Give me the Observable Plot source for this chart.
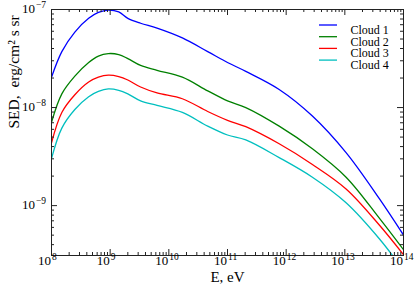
<!DOCTYPE html>
<html><head><meta charset="utf-8">
<script src="https://cdn.jsdelivr.net/npm/d3@7"></script>
<script src="https://cdn.jsdelivr.net/npm/@observablehq/plot@0.6"></script>
<style>body{margin:0;background:#fff} svg{display:block}</style>
</head><body><div id="chart"></div>
<script>
const energies = [1e8, 1.5e8, 2.5e8, 4.3e8, 6.3e8, 9.3e8, 1.4e9, 2e9, 3.3e9, 6.3e9, 1.7e10, 4.6e10, 1e11, 2.05e11, 7.6e11, 2.8e12, 1.05e13, 3.9e13, 1e14];
const cloud1 = [2.04e-8, 3.72e-8, 5.89e-8, 8.13e-8, 9.33e-8, 9.85e-8, 9.44e-8, 8.13e-8, 7.24e-8, 6.46e-8, 5.13e-8, 3.72e-8, 2.88e-8, 2.34e-8, 1.53e-8, 8.20e-9, 3.47e-9, 1.17e-9, 5.01e-10];
const cloud2 = [7.08e-9, 1.38e-8, 2.09e-8, 2.88e-8, 3.35e-8, 3.55e-8, 3.47e-8, 3.16e-8, 2.69e-8, 2.40e-8, 2.04e-8, 1.48e-8, 1.17e-8, 1.00e-8, 6.46e-9, 3.80e-9, 1.95e-9, 7.41e-10, 3.55e-10];
const cloud3 = [4.37e-9, 8.91e-9, 1.35e-8, 1.82e-8, 2.04e-8, 2.14e-8, 2.07e-8, 1.91e-8, 1.62e-8, 1.41e-8, 1.23e-8, 9.12e-9, 7.41e-9, 6.38e-9, 4.27e-9, 2.63e-9, 1.48e-9, 6.31e-10, 3.16e-10];
const cloud4 = [3.02e-9, 6.17e-9, 9.55e-9, 1.29e-8, 1.46e-8, 1.55e-8, 1.50e-8, 1.38e-8, 1.17e-8, 1.05e-8, 8.91e-9, 6.46e-9, 5.25e-9, 4.68e-9, 3.09e-9, 1.95e-9, 1.07e-9, 4.57e-10, 2.19e-10];
const seriesNames = ["Cloud 1", "Cloud 2", "Cloud 3", "Cloud 4"];
const seriesColors = ["#0000ff", "#008000", "#ff0000", "#00bfbf"];
const xMajorTicks = [1e8, 1e9, 1e10, 1e11, 1e12, 1e13, 1e14];
const xExponents = ["8", "9", "10", "11", "12", "13", "14"];
const yMajorTicks = [1e-9, 1e-8, 1e-7];
const yExponents = ["\u22129", "\u22128", "\u22127"];
const minorMultipliers = [2, 3, 4, 5, 6, 7, 8, 9];

const seriesValues = [cloud1, cloud2, cloud3, cloud4];
const rows = seriesNames.flatMap((name, i) => energies.map((E, j) => ({E, sed: seriesValues[i][j], series: name})));
const xMinorTicks = xMajorTicks.slice(0, -1).flatMap(d => minorMultipliers.map(m => d * m));
const yMinorTicks = [1e-10, 1e-9, 1e-8].flatMap(d => minorMultipliers.map(m => d * m)).filter(v => v > 3.5e-10 && v < 1e-7);

const W = 415, H = 289, mL = 51, mR = 12, mT = 9, mB = 34;
const fw = W - mL - mR, fh = H - mT - mB;
const ax = "#222";
const legendStep = 11.7;

const chart = Plot.plot({
  width: W, height: H,
  marginLeft: mL, marginRight: mR, marginTop: mT, marginBottom: mB,
  x: {type: "log", domain: [1e8, 1e14], axis: null},
  y: {type: "log", domain: [3.1e-10, 1e-7], axis: null},
  color: {domain: seriesNames, range: seriesColors},
  style: {fontFamily: "'Liberation Serif', serif", background: "white", color: "black"},
  marks: [
    Plot.line(rows, {x: "E", y: "sed", stroke: "series", strokeWidth: 1.3, curve: "catmull-rom", clip: true}),
    Plot.frame({stroke: ax}),
    Plot.tickX(xMajorTicks, {x: d => d, insetTop: fh - 6, stroke: ax}),
    Plot.tickX(xMajorTicks, {x: d => d, insetBottom: fh - 6, stroke: ax}),
    Plot.tickX(xMinorTicks, {x: d => d, insetTop: fh - 3, stroke: ax}),
    Plot.tickX(xMinorTicks, {x: d => d, insetBottom: fh - 3, stroke: ax}),
    Plot.tickY(yMajorTicks, {y: d => d, insetRight: fw - 6, stroke: ax}),
    Plot.tickY(yMajorTicks, {y: d => d, insetLeft: fw - 6, stroke: ax}),
    Plot.tickY(yMinorTicks, {y: d => d, insetRight: fw - 3, stroke: ax}),
    Plot.tickY(yMinorTicks, {y: d => d, insetLeft: fw - 3, stroke: ax}),
    Plot.text(xMajorTicks, {x: d => d, frameAnchor: "bottom", text: () => "10", textAnchor: "end", dx: -0.5, dy: 9.5, fontSize: 13}),
    Plot.text(xMajorTicks, {x: d => d, frameAnchor: "bottom", text: (d, i) => xExponents[i], textAnchor: "start", dx: 0.5, dy: 4.5, fontSize: 9.5}),
    Plot.text(yMajorTicks, {y: d => d, frameAnchor: "left", text: () => "10", textAnchor: "end", dx: -16.5, dy: -0.5, fontSize: 13}),
    Plot.text(yMajorTicks, {y: d => d, frameAnchor: "left", text: (d, i) => yExponents[i], textAnchor: "start", dx: -15.5, dy: -4.5, fontSize: 9.5}),
    Plot.text(["E, eV"], {frameAnchor: "bottom", dy: 26, fontSize: 15}),
    Plot.text(["SED,  erg/cm\u00b2 s sr"], {frameAnchor: "left", rotate: -90, dx: -37, dy: -4, fontSize: 15.5}),
    ...seriesNames.map((name, i) => Plot.text([name], {frameAnchor: "top-left", textAnchor: "start", dx: 299, dy: 16 + legendStep * i, fontSize: 12}))
  ]
});

const svg = d3.select(chart);
seriesNames.forEach((name, i) => {
  svg.append("line")
    .attr("x1", 319).attr("x2", 337)
    .attr("y1", mT + 16 + legendStep * i).attr("y2", mT + 16 + legendStep * i)
    .attr("stroke", seriesColors[i]).attr("stroke-width", 1.3);
});
document.getElementById("chart").appendChild(chart);
</script>
</body></html>
